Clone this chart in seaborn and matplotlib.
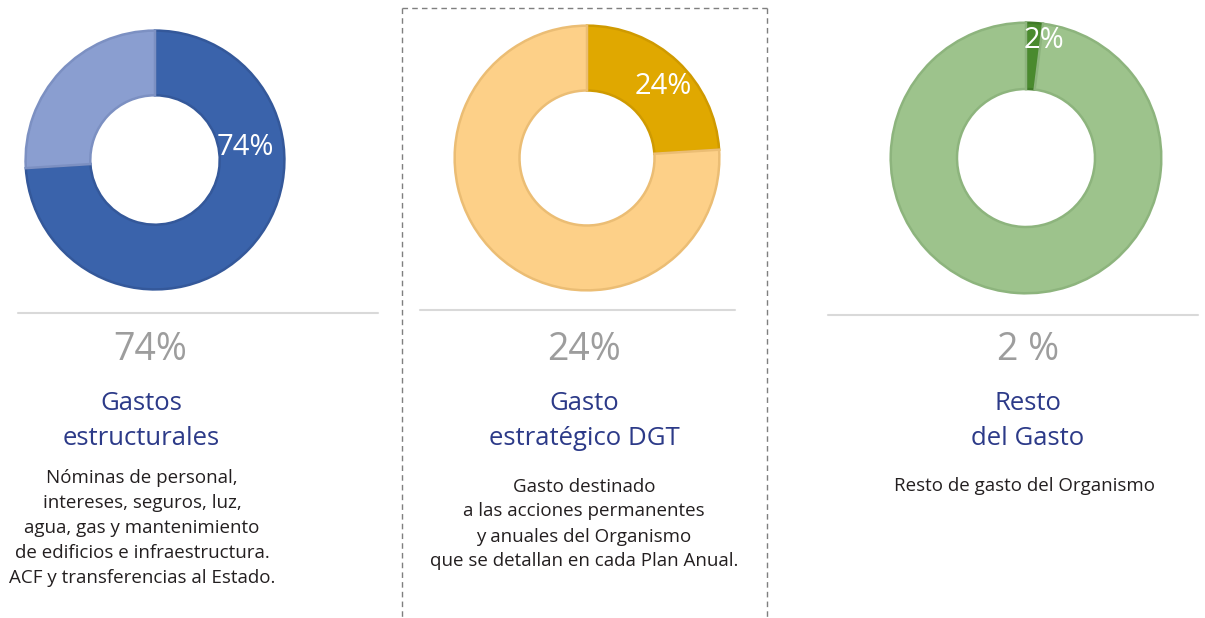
import matplotlib
matplotlib.use("Agg")
import matplotlib.pyplot as plt
import seaborn as sns

sns.set_theme(style="white")
plt.rcParams['font.family'] = ['Open Sans', 'DejaVu Sans']

# datos
porcentajes = [74, 24, 2]
resto = [26, 76, 98]
etiquetas_anillo = ['74%', '24%', '2%']
etiquetas_grandes = ['74%', '24%', '2 %']
titulos = ['Gastos\nestructurales', 'Gasto\nestratégico DGT', 'Resto\ndel Gasto']
descripciones = [
    'Nóminas de personal,\nintereses, seguros, luz,\nagua, gas y mantenimiento\nde edificios e infraestructura.\nACF y transferencias al Estado.',
    'Gasto destinado\na las acciones permanentes\ny anuales del Organismo\nque se detallan en cada Plan Anual.',
    'Resto de gasto del Organismo',
]
col_fuerte = ['#3A63AB', '#E0A800', '#4A8A2E']
col_suave = ['#8A9ED0', '#FDD088', '#9DC38C']
borde_fuerte = ['#34589A', '#CF9A00', '#3F7A27']
borde_suave = ['#7C90C2', '#EBBD74', '#8DB47D']

W, H = 1205, 618
fig = plt.figure(figsize=(W / 100, H / 100), dpi=100)
fig.patch.set_facecolor('white')


def fx(x):
    return x / W


def fy(y):
    return 1 - y / H


# centro (px), radio (px), grosor relativo, posicion etiqueta
anillos = [
    ((155, 160), 132, 0.50, (0.70, 0.10)),
    ((587, 158), 135, 0.49, (0.58, 0.54)),
    ((1026, 158), 138, 0.49, (0.13, 0.87)),
]

for i, ((cx, cy), r, grosor, (lx, ly)) in enumerate(anillos):
    ax = fig.add_axes([fx(cx - r), fy(cy + r), 2 * r / W, 2 * r / H])
    wedges, _ = ax.pie([porcentajes[i], resto[i]],
                       colors=[col_fuerte[i], col_suave[i]],
                       startangle=90, counterclock=False, radius=1,
                       wedgeprops=dict(width=grosor, linewidth=1.8))
    wedges[0].set_edgecolor(borde_fuerte[i])
    wedges[1].set_edgecolor(borde_suave[i])
    ax.text(lx, ly, etiquetas_anillo[i], color='white', fontsize=21,
            ha='center', va='center')
    ax.set_xlim(-1.02, 1.02)
    ax.set_ylim(-1.02, 1.02)
    ax.set_aspect('equal')
    ax.axis('off')

# lineas separadoras
for (x0, x1, y) in [(18, 378, 313), (420, 735, 310), (828, 1198, 315)]:
    fig.add_artist(plt.Line2D([fx(x0), fx(x1)], [fy(y), fy(y)],
                              color='#D9D9D9', lw=1.5))

# recuadro discontinuo central
caja = dict(color='#7F7F7F', lw=1.0, linestyle=(0, (4, 3)))
fig.add_artist(plt.Line2D([fx(402), fx(402)], [fy(8), 0], **caja))
fig.add_artist(plt.Line2D([fx(767), fx(767)], [fy(8), 0], **caja))
fig.add_artist(plt.Line2D([fx(402), fx(767)], [fy(8), fy(8)], **caja))

# textos
centros_txt = [(150, 141, 142, 528), (584, 584, 584, 524), (1028, 1028, 1024, 486)]
for i, (xg, xt, xd, yd) in enumerate(centros_txt):
    fig.text(fx(xg), fy(350), etiquetas_grandes[i], color='#9D9D9D',
             fontsize=27, ha='center', va='center')
    fig.text(fx(xt), fy(421), titulos[i], color='#2C3A88', fontsize=18.5,
             ha='center', va='center', linespacing=1.5)
    fig.text(fx(xd), fy(yd), descripciones[i], color='#231F20', fontsize=13.5,
             ha='center', va='center', linespacing=1.5)

fig.savefig('out.png', dpi=100, facecolor='white')
